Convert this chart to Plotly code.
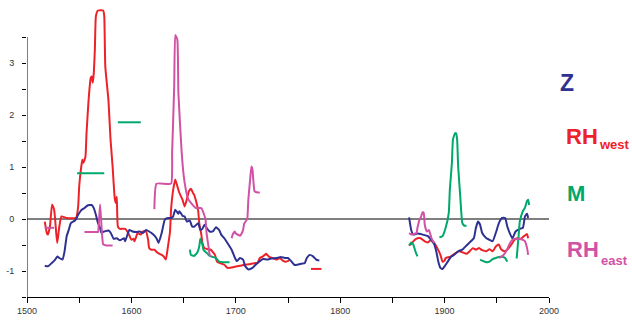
import plotly.graph_objects as go

# ---------------- data ----------------
z_years = [1517,1520,1523,1527,1529,1531,1534,1536,1538,1540,1542,1546,1549,1552,1555,1558,1562,1564,1566,1568,
           1570,1571,1574,1578,1580,1583,1586,1589,1593,1594,1598,1601,1605,1608,1611,1614,1617,1621,1624,1626,
           1629,1632,1635,1638,1640,1642,1645,1646,1649,1651,1653,1656,1658,1660,1664,1666,1668,1670,1672,1675,
           1678,1681,1684,1686,1689,1692,1696,1699,1701,1704,1707,1709,1712,1716,1719,1723,1726,1730,1734,1739,
           1743,1747,1750,1753,1756,1759,1763,1766,1768,1771,1774,1777,1780,
           None,
           1866,1868,1870,1874,1879,1884,1887,1890,1892,1894,1896,1898,1900,1903,1906,1909,1913,1917,1921,1924,
           1928,1930,1932,1934,1936,1940,1943,1946,1949,1952,1955,1958,1960,1963,1965,1968,1972,1975,1977,1979,1980]
z_vals = [-0.90,-0.91,-0.86,-0.78,-0.72,-0.75,-0.78,-0.62,-0.33,-0.21,-0.08,-0.03,0.08,0.17,0.21,0.26,0.27,0.21,0.08,-0.08,
          -0.17,-0.26,-0.24,-0.22,-0.26,-0.38,-0.37,-0.41,-0.37,-0.43,-0.21,-0.24,-0.25,-0.24,-0.27,-0.21,-0.24,-0.30,-0.37,-0.46,
          -0.27,-0.01,0.02,0.02,0.05,0.18,0.10,0.15,0.06,0.05,-0.05,-0.03,-0.14,-0.15,-0.08,-0.21,-0.19,-0.11,-0.17,-0.24,
          -0.24,-0.16,-0.21,-0.30,-0.37,-0.46,-0.59,-0.74,-0.81,-0.75,-0.78,-0.91,-0.97,-0.94,-0.88,-0.81,-0.77,-0.78,-0.76,-0.75,
          -0.73,-0.75,-0.75,-0.81,-0.88,-0.88,-0.86,-0.85,-0.75,-0.69,-0.72,-0.78,-0.80,
          None,
          0.03,-0.21,-0.30,-0.28,-0.30,-0.33,-0.40,-0.48,-0.62,-0.82,-0.94,-0.96,-0.91,-0.82,-0.73,-0.69,-0.62,-0.59,-0.51,-0.45,
          -0.37,-0.17,-0.05,-0.11,-0.27,-0.37,-0.40,-0.43,-0.27,-0.08,0.02,0.02,-0.14,-0.30,-0.37,-0.24,-0.19,-0.17,0.05,0.10,0.02]

rhw_years = [1517,1519,1520,1522,1524,1526,1528,1529,1531,1533,1538,1547,1549,1550,1552,1553,1554,1556,1557,1559,
             1561,1562,1563,1564,1565,1566,1568,1573,1574,1575,1578,1580,1582,1584,1585,1586,1587,1589,1594,1597,
             1600,1602,1603,1606,1609,1611,1614,1616,1617,1619,1622,1625,1629,1631,1633,1635,1637,1638,1640,1642,
             1644,1646,1649,1651,1653,1655,1657,1659,1660,1662,1664,1665,1667,1668,1670,1673,1676,1680,1682,1685,
             1689,1692,1699,1704,1708,1713,1718,1721,1723,1726,1729,1732,1735,1739,1742,1745,1748,1751,
             None,
             1772,1782,
             None,
             1866,1868,1871,1874,1877,1881,1884,1887,1890,1893,1896,1898,1900,1901,1905,1908,1911,1914,1917,1921,
             1924,1927,1930,1933,1936,1940,1943,1946,1949,1952,1954,1957,1960,1964,1967,1970,1973,1976,1979,1980]
rhw_vals = [-0.05,-0.27,-0.30,-0.14,0.28,0.18,-0.27,-0.46,-0.14,0.05,0.02,0.02,0.24,0.63,1.01,1.14,1.08,1.20,1.65,2.29,
            2.71,2.74,2.62,2.81,3.26,3.90,4.01,4.01,3.90,2.93,2.29,1.53,1.01,0.40,0.31,0.43,-0.14,-0.19,-0.19,-0.27,
            -0.40,-0.38,-0.43,-0.27,-0.30,-0.24,-0.24,-0.40,-0.56,-0.59,-0.59,-0.65,-0.69,-0.72,-0.78,-0.53,-0.24,0.18,0.56,0.76,
            0.63,0.50,0.37,0.24,0.37,0.53,0.58,0.50,0.47,0.34,0.15,-0.08,-0.30,-0.46,-0.56,-0.58,-0.59,-0.69,-0.82,-0.85,
            -0.88,-0.94,-0.92,-0.90,-0.88,-0.87,-0.85,-0.84,-0.75,-0.72,-0.67,-0.73,-0.75,-0.78,-0.75,-0.80,-0.82,-0.80,
            None,
            -0.96,-0.96,
            None,
            -0.51,-0.48,-0.41,-0.37,-0.37,-0.43,-0.45,-0.40,-0.46,-0.56,-0.69,-0.82,-0.80,-0.75,-0.73,-0.69,-0.65,-0.62,-0.64,-0.67,
            -0.62,-0.56,-0.59,-0.56,-0.60,-0.62,-0.58,-0.62,-0.53,-0.49,-0.58,-0.62,-0.59,-0.49,-0.40,-0.37,-0.38,-0.33,-0.29,-0.37]

m_years = [1548,1574, None,
           1587,1609, None,
           1656,1657,1660,1663,1665,1666,1668,1669,1672,1675,1678,1681,1684,1688,1691,1694, None,
           1866,1868,1870,1872,1874, None,
           1895,1898,1901,1904,1905,1907,1908,1910,1911,1912,1913,1915,1916,1917,1919,1921, None,
           1934,1936,1940,1943,1946,1949,1952,1956,1958,1960, None,
           1969,1971,1972,1975,1977,1979,1980,1981]
m_vals = [0.88,0.88, None,
          1.86,1.86, None,
          -0.59,-0.69,-0.71,-0.65,-0.53,-0.38,-0.49,-0.59,-0.65,-0.71,-0.73,-0.75,-0.82,-0.83,-0.83,-0.83, None,
          -0.51,-0.45,-0.49,-0.62,-0.72, None,
          -0.35,-0.33,-0.17,0.12,0.56,1.08,1.53,1.65,1.65,1.53,1.01,0.43,0.12,-0.08,-0.13,-0.13, None,
          -0.78,-0.80,-0.83,-0.82,-0.77,-0.75,-0.73,-0.73,-0.75,-0.82, None,
          -0.76,-0.30,-0.05,0.15,0.22,0.35,0.37,0.27]

rhe_years = [1517,1526, None,
             1555,1566,1568,1569,1570,1571,1572,1573,1576,1582, None,
             1622,1624,1638,1639,1641,1642,1644,1645,1648,1650,1652,1654,1657,1662,1667,1669,1671,1672,1674,1675,1676, None,
             1696,1697,1699,1700,1704,1705,1707,1708,1710,1711,1712,1714,1715,1716,1717,1718,1721,1723, None,
             1866,1868,1873,1874,1876,1877,1879,1880,1881,1883,1885,1886,1888,1890, None,
             1952,1956,1959,1962,1965,1968,1971,1975,1977,1979,1980]
rhe_vals = [-0.17,-0.17, None,
            -0.25,-0.25,-0.25,-0.02,0.28,-0.02,-0.33,-0.49,-0.51,-0.51, None,
            0.19,0.68,0.68,1.27,2.55,3.54,3.45,2.43,1.33,0.85,0.58,0.40,0.31,0.21,0.21,0.12,-0.01,-0.27,-0.55,-0.69,-0.72, None,
            -0.37,-0.30,-0.24,-0.28,-0.32,-0.30,-0.21,-0.09,-0.03,0.0,0.37,0.82,1.01,0.95,0.69,0.53,0.51,0.51, None,
            -0.27,-0.30,-0.27,-0.17,-0.01,0.02,0.13,0.12,-0.11,-0.24,-0.21,-0.27,-0.40,-0.46, None,
            -0.75,-0.70,-0.62,-0.49,-0.40,-0.38,-0.38,-0.40,-0.43,-0.56,-0.69]

x_tickvals = [1500, 1600, 1700, 1800, 1900, 2000]
x_ticktext = ["1500", "1600", "1700", "1800", "1900", "2000"]
y_tickvals = [-1, 0, 1, 2, 3]
y_ticktext = ["-1", "0", "1", "2", "3"]
y_minor = [-1.5, -0.5, 0.5, 1.5, 2.5, 3.5]

C_Z = "#2e3192"
C_RHW = "#ed2228"
C_M = "#00a86b"
C_RHE = "#d152a5"

FONT = "Liberation Sans, Arial, sans-serif"

fig = go.Figure()
for xs, ys, col in [(rhw_years, rhw_vals, C_RHW), (z_years, z_vals, C_Z),
                    (m_years, m_vals, C_M), (rhe_years, rhe_vals, C_RHE)]:
    fig.add_trace(go.Scatter(x=xs, y=ys, mode="lines",
                             line=dict(color=col, width=2, shape="spline", smoothing=0.4),
                             connectgaps=False, hoverinfo="skip"))

# axis lines / zero line
fig.add_shape(type="line", x0=1500, x1=1500, y0=-1.5, y1=3.5, xref="x", yref="y",
              line=dict(color="black", width=1), layer="above")
fig.add_shape(type="line", x0=1500, x1=2000, y0=0, y1=0, xref="x", yref="y",
              line=dict(color="black", width=1.2), layer="below")

fig.update_xaxes(range=[1500, 2000], showgrid=False, zeroline=False, automargin=False,
                 showline=True, linecolor="black", linewidth=1,
                 tickmode="array", tickvals=x_tickvals, ticktext=x_ticktext,
                 ticks="outside", ticklen=5, tickcolor="black", tickwidth=1,
                 minor=dict(dtick=50, tick0=1500, ticks="outside", ticklen=5, tickcolor="black", tickwidth=1),
                 tickfont=dict(family=FONT, size=9, color="#333333"))
fig.update_yaxes(range=[-1.5, 4.058], showgrid=False, zeroline=False, showline=False, automargin=False,
                 tickmode="array", tickvals=y_tickvals, ticktext=y_ticktext,
                 ticks="outside", ticklen=4, tickcolor="black", tickwidth=1,
                 minor=dict(tickmode="array", tickvals=y_minor, ticks="outside", ticklen=4,
                            tickcolor="black", tickwidth=1),
                 ticklabelstandoff=6,
                 tickfont=dict(family=FONT, size=9, color="#333333"))

def ann(text, x, y, size, color, xanchor="left"):
    fig.add_annotation(text=text, x=x, y=y, xref="paper", yref="paper", showarrow=False,
                       xanchor=xanchor, yanchor="middle", borderpad=0,
                       font=dict(family=FONT, size=size, color=color))

ann("<b>Z</b>", 1.0354, 0.742, 23, C_Z, xanchor="center")
ann("<b>RH</b>", 1.030, 0.555, 22, C_RHW)
ann("<b>west</b>", 1.093, 0.529, 13, C_RHW)
ann("<b>M</b>", 1.0517, 0.358, 22, C_M, xanchor="center")
ann("<b>RH</b>", 1.032, 0.163, 22, C_RHE)
ann("<b>east</b>", 1.097, 0.128, 13, C_RHE)

fig.update_layout(width=632, height=322, margin=dict(l=27, r=83, t=8, b=25),
                  plot_bgcolor="white", paper_bgcolor="white", showlegend=False)

fig.write_html("out.html", config={"displayModeBar": False},
               post_script="document.body.style.margin='0';document.body.style.padding='0';")
